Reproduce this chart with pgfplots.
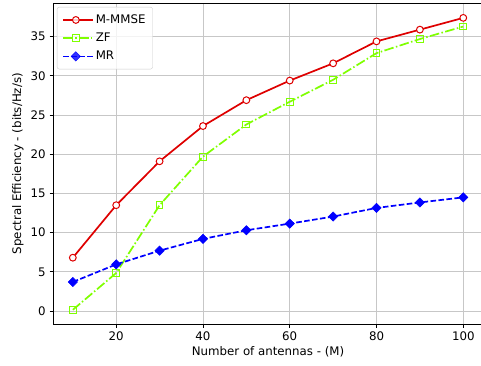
\documentclass[border=0pt]{standalone}
\usepackage{pgfplots}
\pgfplotsset{compat=1.18}
\usepackage{fontspec}
\setmainfont{DejaVu Sans}
\definecolor{mred}{RGB}{222,0,0}
\definecolor{mgreen}{RGB}{127,255,0}
\definecolor{mblue}{RGB}{0,0,255}
\newcommand{\mfont}{\fontsize{11.8}{14}\selectfont}
\begin{document}
\mfont
\begin{tikzpicture}
\begin{axis}[
  name=ax,
  scale only axis,
  width=429.5pt, height=320.7pt,
  xmin=5.5, xmax=104.5, ymin=-1.66, ymax=39.26,
  xtick={20,40,60,80,100},
  ytick={0,5,10,15,20,25,30,35},
  tick align=outside, tick pos=left,
  major tick length=3.6pt,
  every tick/.style={black, line width=0.8pt},
  axis line style={black, line width=0.8pt},
  grid=major,
  grid style={black!22, line width=0.8pt},
  /pgf/number format/assume math mode=true,
  ticklabel style={font=\mfont},
  xticklabel style={yshift=-0.5pt},
  xlabel={Number of antennas - (M)},
  ylabel={Spectral Efficiency - (bits/Hz/s)},
  label style={font=\mfont},
  xlabel style={yshift=3pt},
  ylabel style={yshift=-1pt},
  legend cell align=left,
  legend style={at={(0.0086,0.9885)}, anchor=north west,
    draw=black!20, rounded corners=2pt, fill=white, fill opacity=0.8, text opacity=1,
    font=\mfont, row sep=3.8pt, inner xsep=5pt, inner ysep=5.5pt},
  legend image code/.code={
    \path (0cm,0cm) -- (1.05cm,0cm);
    \draw[mark repeat=2,mark phase=2] plot coordinates {(0cm,0cm) (0.45cm,0cm) (0.9cm,0cm)};
  },
]
\addplot[mred, line width=1.7pt, mark=*, mark size=3.4pt,
  mark options={solid, fill=white, draw=mred, line width=1pt}]
  coordinates {(10,6.8) (20,13.5) (30,19.1) (40,23.6) (50,26.9) (60,29.4) (70,31.6) (80,34.4) (90,35.9) (100,37.4)};
\addlegendentry{M-MMSE}
\addplot[mgreen, line width=1.7pt, dash pattern=on 9.6pt off 2.4pt on 1.5pt off 2.4pt,
  mark=square, mark size=3.4pt, mark options={solid, fill=white, draw=mgreen, line width=1pt}]
  coordinates {(10,0.15) (20,4.85) (30,13.5) (40,19.7) (50,23.8) (60,26.7) (70,29.5) (80,32.9) (90,34.7) (100,36.3)};
\addlegendentry{ZF}
\addplot[mblue, line width=1.7pt, dash pattern=on 5.6pt off 2.4pt,
  mark=square*, mark size=3.3pt, mark options={solid, rotate=45, fill=mblue, draw=mblue, line width=0.5pt}]
  coordinates {(10,3.7) (20,5.95) (30,7.7) (40,9.2) (50,10.3) (60,11.15) (70,12.05) (80,13.15) (90,13.85) (100,14.5)};
\addlegendentry{MR}
\end{axis}
\pgfresetboundingbox
\path[use as bounding box] ([shift={(-53.3pt,-41pt)}]ax.south west) rectangle ([shift={(-1.8pt,3.3pt)}]ax.north east);
\end{tikzpicture}
\end{document}
